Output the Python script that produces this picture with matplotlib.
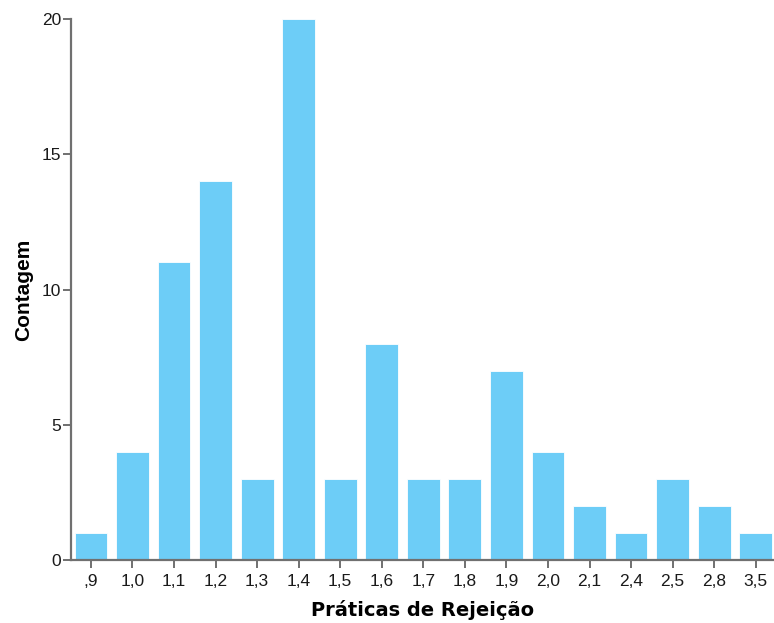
import matplotlib
matplotlib.use("Agg")
import matplotlib.pyplot as plt

plt.rcParams["font.family"] = ["Liberation Sans", "DejaVu Sans"]

CATEGORIES = [",9", "1,0", "1,1", "1,2", "1,3", "1,4", "1,5", "1,6", "1,7",
              "1,8", "1,9", "2,0", "2,1", "2,4", "2,5", "2,8", "3,5"]
COUNTS = [1, 4, 11, 14, 3, 20, 3, 8, 3, 3, 7, 4, 2, 1, 3, 2, 1]

BAR_COLOR = "#6dcdf7"
AXIS_COLOR = "#707070"


def main():
    fig = plt.figure(figsize=(7.74, 6.23), dpi=100)
    ax = fig.add_axes([71 / 774, 1 - 560 / 623, 703 / 774, 541 / 623])

    x = range(len(CATEGORIES))
    ax.bar(x, COUNTS, width=0.79, color=BAR_COLOR, edgecolor="white",
           linewidth=0.6)

    ax.set_xlim(-0.48, 16.44)
    ax.set_ylim(0, 20)
    ax.set_xticks(list(x))
    ax.set_xticklabels(CATEGORIES)
    ax.set_yticks([0, 5, 10, 15, 20])

    for side in ("top", "right"):
        ax.spines[side].set_visible(False)
    for side in ("left", "bottom"):
        ax.spines[side].set_color(AXIS_COLOR)
        ax.spines[side].set_linewidth(1.6)
    ax.tick_params(axis="both", colors=AXIS_COLOR, length=6, width=1.4,
                   labelsize=12.5, labelcolor="#1a1a1a")
    ax.tick_params(axis="x", pad=4)
    ax.tick_params(axis="y", pad=1)

    # wide bold face for the x title, narrower Arial-like for the y title
    ax.set_xlabel("Práticas de Rejeição", fontsize=14, fontweight="bold",
                  family=["DejaVu Sans"])
    ax.set_ylabel("Contagem", fontsize=15, fontweight="bold")
    ax.xaxis.set_label_coords(0.5, -0.074)
    ax.yaxis.set_label_coords(-0.054, 0.5)
    ax.xaxis.label.set_va("top")

    fig.savefig("out.png", dpi=100)
    plt.close(fig)


if __name__ == "__main__":
    main()
